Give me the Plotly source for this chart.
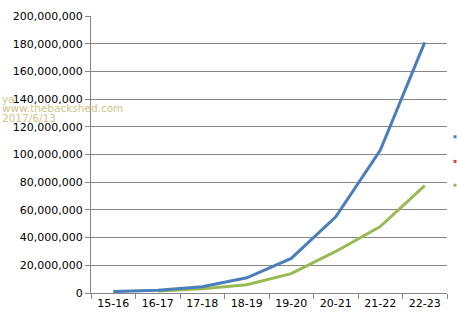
import plotly.graph_objects as go

categories = ["15-16", "16-17", "17-18", "18-19", "19-20", "20-21", "21-22", "22-23"]
series_blue = [1000000, 2000000, 4500000, 11000000, 25000000, 55000000, 103000000, 181000000]
series_red = [None] * 8
series_green = [None, 1500000, 3000000, 6000000, 14000000, 30000000, 48000000, 77500000]
y_ticks = list(range(0, 200000001, 20000000))
watermark_lines = ["ya", "www.thebackshed.com", "2017/6/13"]

fig = go.Figure()
fig.add_trace(go.Scatter(x=categories, y=series_red, mode="lines",
                         line=dict(color="#be4b48", width=3), showlegend=False))
fig.add_trace(go.Scatter(x=categories, y=series_green, mode="lines",
                         line=dict(color="#98b954", width=3), showlegend=False))
fig.add_trace(go.Scatter(x=categories, y=series_blue, mode="lines",
                         line=dict(color="#4a7ebb", width=3), showlegend=False))

# truncated legend markers at right edge
for ypos, col in [(0.564, "#4a7ebb"), (0.475, "#be4b48"), (0.389, "#98b954")]:
    fig.add_shape(type="rect", xref="paper", yref="paper", xsizemode="pixel", ysizemode="pixel",
                  xanchor=1.0225, yanchor=ypos, x0=-1.5, x1=1.5, y0=-1.5, y1=1.5,
                  fillcolor=col, line=dict(width=0))

for i, txt in enumerate(watermark_lines):
    fig.add_annotation(text=txt, xref="paper", yref="paper",
                       x=-0.2556, y=0.700 - i * 0.0335, xanchor="left", yanchor="middle",
                       showarrow=False, align="left",
                       font=dict(family="DejaVu Sans", size=10.5, color="#cfc48a"))

fig.update_layout(
    width=457, height=325,
    margin=dict(l=91, r=10, t=13, b=32),
    paper_bgcolor="white", plot_bgcolor="white",
    font=dict(family="DejaVu Sans", size=11, color="black"),
    xaxis=dict(showgrid=False, showline=True, linecolor="#868686", linewidth=1,
               ticks="outside", tickson="boundaries", ticklen=5, tickcolor="#868686",
               range=[-0.5, 7.5]),
    yaxis=dict(range=[0, 200000000], tickvals=y_ticks, tickformat=",d",
               showgrid=True, gridcolor="#868686", gridwidth=1,
               showline=True, linecolor="#868686", linewidth=1,
               ticks="outside", ticklen=5, tickcolor="#868686", zeroline=False),
)

fig.write_html("out.html")
